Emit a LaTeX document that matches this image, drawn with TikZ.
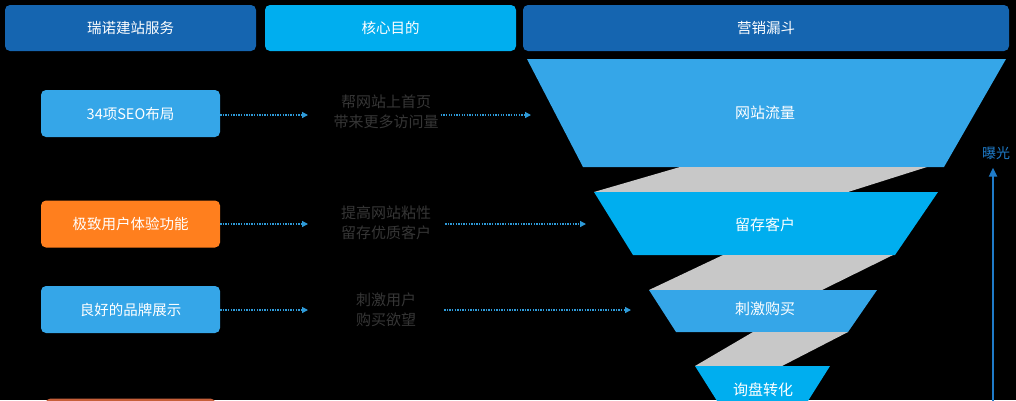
\documentclass[tikz,border=0pt]{standalone}
\usepackage{fontspec}
\setmainfont{Noto Sans CJK SC}
\usetikzlibrary{arrows.meta}
\definecolor{dblue}{HTML}{1565B0}
\definecolor{cyanb}{HTML}{00AEEF}
\definecolor{lblue}{HTML}{35A6E8}
\definecolor{orng}{HTML}{FF7F1E}
\definecolor{redb}{HTML}{C8603A}
\definecolor{gband}{HTML}{C8C8C8}
\definecolor{gtext}{HTML}{363636}
\definecolor{arrblue}{HTML}{2E9AD8}
\definecolor{vblue}{HTML}{1F7BC8}
\begin{document}
\begin{tikzpicture}[x=1pt,y=-1pt,
  hdr/.style={rounded corners=5pt, minimum height=46pt, inner sep=0pt, text=white, font=\fontsize{14.5}{16}\selectfont},
  lbox/.style={rounded corners=5pt, minimum width=179pt, minimum height=47pt, inner sep=0pt, text=white, font=\fontsize{14.5}{16}\selectfont},
  mid/.style={text=gtext, align=center, inner sep=0pt, font=\fontsize{15}{20.5}\selectfont},
  flabel/.style={text=white, inner sep=0pt, font=\fontsize{15}{18}\selectfont},
  dotarrow/.style={draw=arrblue, line width=1.3pt, dash pattern=on 1.3pt off 1.3pt, -{Triangle[length=6pt,width=6pt,fill=arrblue]}},
  vert/.style={draw=vblue, line width=2pt, -{Triangle[length=9pt,width=8pt]}}
]
\fill[black] (0,0) rectangle (1016,400);
\useasboundingbox (0,0) rectangle (1016,400);
\clip (0,0) rectangle (1016,400);

% headers
\node[hdr, fill=dblue, minimum width=251pt] (h1) at (130.5,28) {瑞诺建站服务};
\node[hdr, fill=cyanb, minimum width=251pt] (h2) at (390.5,28) {核心目的};
\node[hdr, fill=dblue, minimum width=486pt] (h3) at (766,28) {营销漏斗};

% funnel
\fill[lblue] (527,59) -- (1006,59) -- (944,167) -- (583,167) -- cycle;
\fill[gband] (680,167) -- (927,167) -- (848,192) -- (594,192) -- cycle;
\fill[cyanb] (594,192) -- (938,192) -- (895,255) -- (633,255) -- cycle;
\fill[gband] (723,255) -- (893,255) -- (822,290) -- (649,290) -- cycle;
\fill[lblue] (649,290) -- (877,290) -- (848,332) -- (676,332) -- cycle;
\fill[gband] (753,332) -- (848,332) -- (782,366) -- (695,366) -- cycle;
\fill[cyanb] (695,366) -- (830,366) -- (801,412) -- (724,412) -- cycle;
\node[flabel] (f1) at (765,113) {网站流量};
\node[flabel] (f2) at (765,225) {留存客户};
\node[flabel] (f3) at (765,309) {刺激购买};
\node[flabel] (f4) at (763,390) {询盘转化};

% left boxes
\node[lbox, fill=lblue] (b1) at (130.5,113.5) {34项SEO布局};
\node[lbox, fill=orng] (b2) at (130.5,224) {极致用户体验功能};
\node[lbox, fill=lblue] (b3) at (130.5,309.5) {良好的品牌展示};
\node[lbox, fill=redb, minimum width=170pt] (b4) at (130.5,422) {};

% middle texts
\node[mid] (t1) at (386,112) {帮网站上首页\\带来更多访问量};
\node[mid] (t2) at (386,223) {提高网站粘性\\留存优质客户};
\node[mid] (t3) at (386,310) {刺激用户\\购买欲望};

% arrow end points
\coordinate (a1) at (308,115);
\coordinate (a2) at (308,224);
\coordinate (a3) at (308,310);
\coordinate (e1) at (531,115);
\coordinate (e2) at (586,224);
\coordinate (e3) at (631,310);

\draw[dotarrow] (b1.east |- a1) -- (a1);
\draw[dotarrow] (b2.east |- a2) -- (a2);
\draw[dotarrow] (b3.east |- a3) -- (a3);
\draw[dotarrow, shorten <=2pt] (t1.east |- e1) -- (e1);
\draw[dotarrow, shorten <=14pt] (t2.east |- e2) -- (e2);
\draw[dotarrow, shorten <=28pt] (t3.east |- e3) -- (e3);

% exposure arrow
\node[text=vblue, inner sep=0pt, font=\fontsize{14}{16}\selectfont] (exp) at (996,153) {曝光};
\coordinate (vb) at (993,410);
\draw[vert, shorten >=8pt] (vb) -- (vb |- exp.south);
\end{tikzpicture}
\end{document}
